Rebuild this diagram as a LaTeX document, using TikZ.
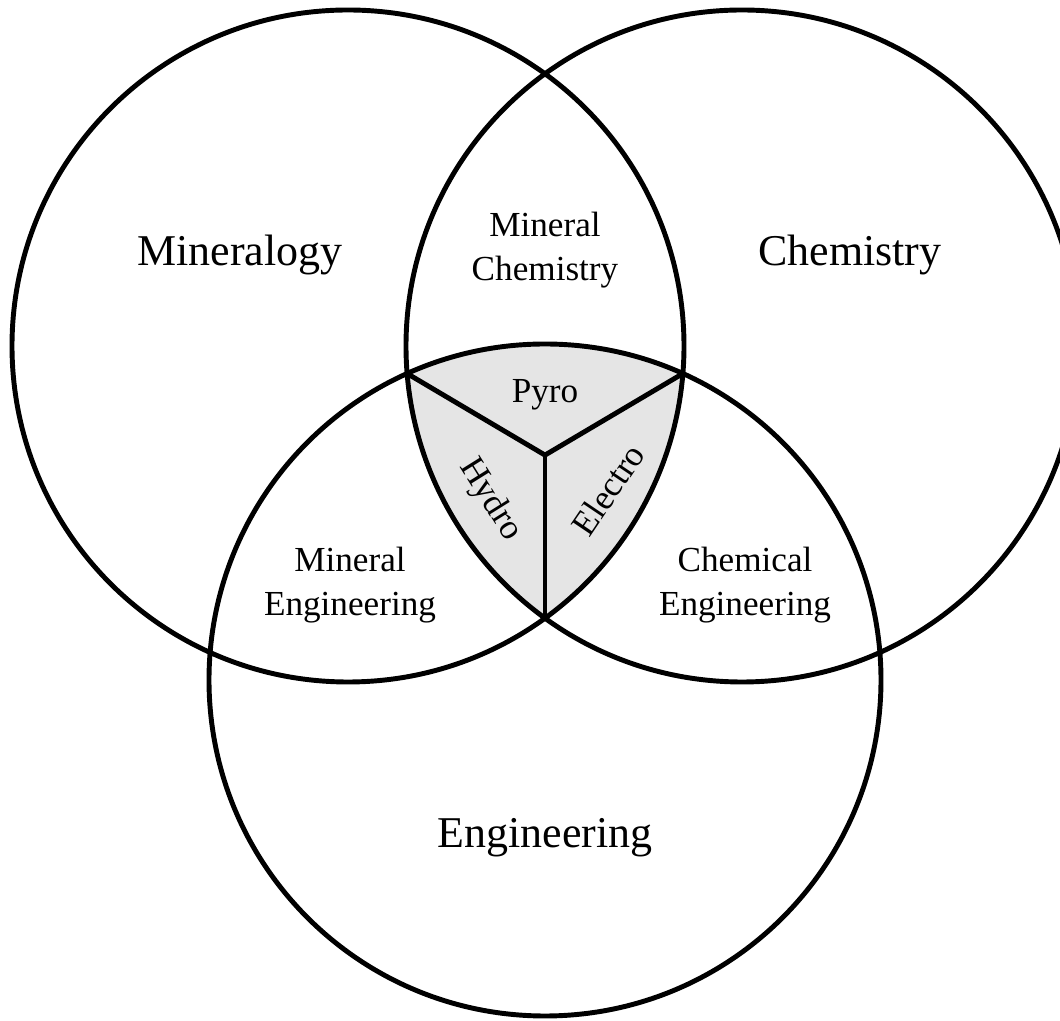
\documentclass[tikz,border=0pt]{standalone}
\usepackage{fontspec}
\setmainfont{Liberation Serif}
\usetikzlibrary{positioning}

\begin{document}
\begin{tikzpicture}[x=0.01cm,y=0.01cm,line width=1.4pt,
    bigtxt/.style={font=\fontsize{12.5}{15}\selectfont},
    smalltxt/.style={align=center,font=\fontsize{10}{12.6}\selectfont}]
    \useasboundingbox (0,0) rectangle (1060,1021);
    \clip (0,0) rectangle (1060,1021);
    % circle centres
    \coordinate (cmin) at (348,675);
    \coordinate (cchem) at (742,675);
    \coordinate (ceng) at (545,341);
    % corners of the middle part and its centre
    \coordinate (vleft) at (407.2,647.4);
    \coordinate (vright) at (682.8,647.4);
    \coordinate (vbot) at (545,402.8);
    \coordinate (vmid) at (545,565.9);
    \begin{scope}
        \clip (cmin) circle[radius=336];
        \clip (cchem) circle[radius=336];
        \fill[gray!20] (ceng) circle[radius=336];
    \end{scope}
    \draw (cmin) circle[radius=336];
    \draw (cchem) circle[radius=336];
    \draw (ceng) circle[radius=336];
    \draw (vmid) -- (vleft);
    \draw (vmid) -- (vright);
    \draw (vmid) -- (vbot);
    \node[bigtxt] (mineralogy) at (240,766) {Mineralogy};
    \node[bigtxt] (chemistry) at (850,766) {Chemistry};
    \node[bigtxt] (engineering) at (545,183) {Engineering};
    \node[smalltxt] (minchem) at (545,771) {Mineral\\Chemistry};
    \node[smalltxt] (mineng) at (350,436) {Mineral\\Engineering};
    \node[smalltxt] (chemeng) at (745,436) {Chemical\\Engineering};
    \node[smalltxt] (pyro) at (545,626) {Pyro};
    \node[smalltxt,rotate=-58] (hydro) at (490,521) {Hydro};
    \node[smalltxt,rotate=56] (electro) at (608,531) {Electro};
\end{tikzpicture}
\end{document}
